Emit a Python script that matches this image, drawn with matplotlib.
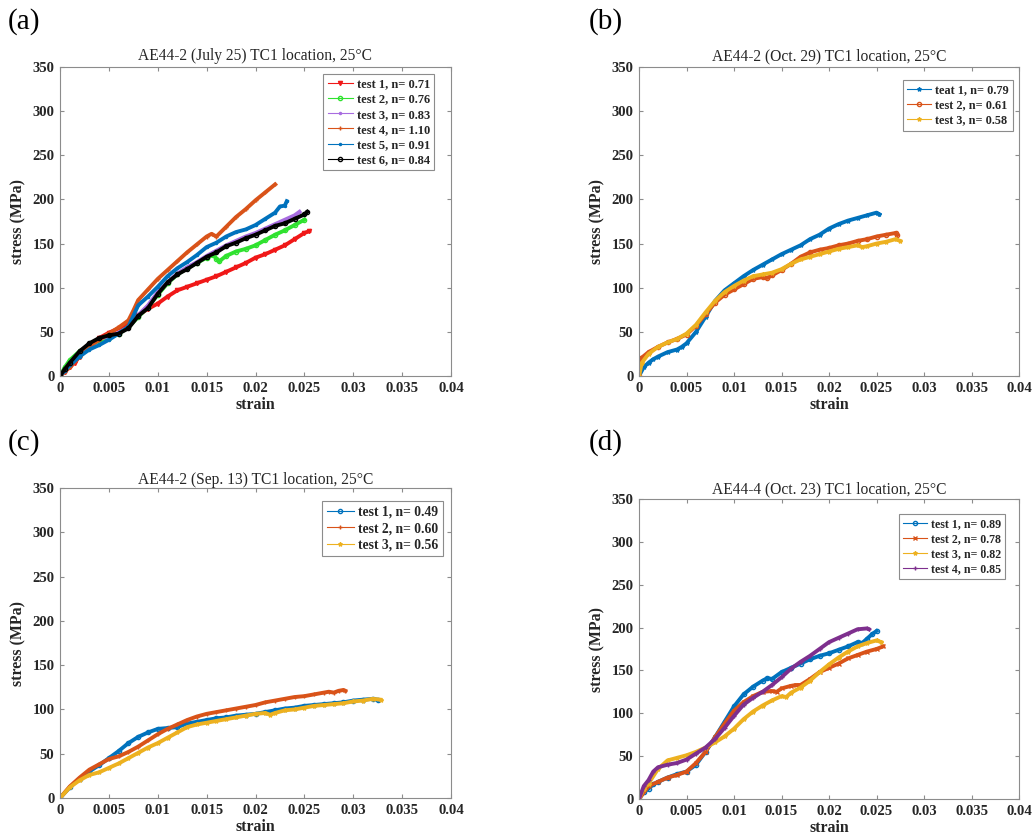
import matplotlib
matplotlib.use("Agg")
import matplotlib.pyplot as plt
from matplotlib.lines import Line2D

plt.rcParams["font.family"] = ["Liberation Serif", "DejaVu Serif"]

# ---------------- panel (a): AE44-2 (July 25) ----------------
a_labels = ["test 1, n= 0.71", "test 2, n= 0.76", "test 3, n= 0.83",
            "test 4, n= 1.10", "test 5, n= 0.91", "test 6, n= 0.84"]
a1_strain = [0, 0.0005, 0.001, 0.0015, 0.002, 0.003, 0.004, 0.005, 0.006, 0.007, 0.008,
             0.009, 0.010, 0.011, 0.012, 0.013, 0.014, 0.015, 0.016, 0.017, 0.018, 0.019,
             0.020, 0.021, 0.022, 0.023, 0.024, 0.025, 0.0255]
a1_stress = [0, 5, 10, 15, 22, 33, 43, 49, 54, 60, 69, 76, 82, 90, 97, 101, 105, 109, 113,
             118, 123, 128, 134, 138, 143, 148, 155, 162, 164]
a2_strain = [0, 0.0005, 0.001, 0.002, 0.003, 0.004, 0.005, 0.006, 0.007, 0.008, 0.009, 0.010,
             0.011, 0.012, 0.013, 0.014, 0.015, 0.0157, 0.0160, 0.0163, 0.017, 0.018, 0.019,
             0.020, 0.021, 0.022, 0.023, 0.024, 0.025]
a2_stress = [0, 10, 18, 28, 35, 40, 43, 48, 55, 67, 78, 92, 105, 115, 122, 128, 134, 137,
             133, 130, 136, 141, 144, 148, 154, 160, 165, 171, 177]
a3_strain = [0, 0.001, 0.002, 0.003, 0.004, 0.005, 0.006, 0.007, 0.008, 0.009, 0.010, 0.011,
             0.012, 0.013, 0.014, 0.015, 0.016, 0.017, 0.018, 0.019, 0.020, 0.021, 0.022,
             0.023, 0.024, 0.0245]
a3_stress = [0, 14, 27, 36, 42, 45, 49, 55, 69, 80, 95, 106, 116, 123, 129, 136, 142, 148,
             153, 158, 162, 167, 172, 177, 182, 186]
a4_strain = [0, 0.0005, 0.001, 0.002, 0.003, 0.004, 0.005, 0.006, 0.007, 0.0075, 0.008,
             0.009, 0.010, 0.011, 0.012, 0.013, 0.014, 0.015, 0.0155, 0.016, 0.017, 0.018,
             0.019, 0.020, 0.021, 0.022]
a4_stress = [0, 5, 10, 22, 33, 41, 48, 55, 63, 74, 86, 98, 110, 120, 130, 140, 149, 158,
             161, 158, 169, 180, 189, 199, 208, 217]
a5_strain = [0, 0.0005, 0.001, 0.002, 0.003, 0.004, 0.005, 0.006, 0.007, 0.008, 0.009,
             0.010, 0.011, 0.012, 0.013, 0.014, 0.015, 0.016, 0.017, 0.018, 0.019, 0.020,
             0.021, 0.022, 0.0225, 0.023, 0.0232]
a5_stress = [0, 6, 12, 22, 30, 35, 41, 48, 56, 80, 90, 101, 113, 122, 129, 137, 146, 151,
             158, 163, 166, 171, 178, 185, 192, 193, 198]
a6_strain = [0, 0.0005, 0.001, 0.002, 0.003, 0.004, 0.005, 0.006, 0.007, 0.008, 0.009,
             0.010, 0.011, 0.012, 0.013, 0.014, 0.015, 0.016, 0.017, 0.018, 0.019, 0.020,
             0.021, 0.022, 0.023, 0.024, 0.025, 0.0253]
a6_stress = [0, 8, 15, 28, 37, 43, 46, 48, 54, 68, 77, 93, 106, 115, 121, 128, 135, 140,
             147, 151, 156, 160, 165, 170, 173, 178, 183, 186]

# ---------------- panel (b): AE44-2 (Oct. 29) ----------------
b_labels = ["teat 1, n= 0.79", "test 2, n= 0.61", "test 3, n= 0.58"]
b1_strain = [0, 0.0005, 0.001, 0.0015, 0.002, 0.003, 0.004, 0.0045, 0.005, 0.006, 0.007,
             0.008, 0.009, 0.010, 0.011, 0.012, 0.013, 0.014, 0.015, 0.016, 0.017, 0.018,
             0.019, 0.020, 0.021, 0.022, 0.023, 0.024, 0.025, 0.0253]
b1_stress = [0, 10, 15, 19, 22, 27, 30, 33, 37, 50, 67, 85, 97, 105, 113, 120, 126, 132,
             138, 143, 148, 155, 160, 167, 172, 176, 179, 182, 185, 183]
b2_strain = [0, 0.0002, 0.001, 0.002, 0.003, 0.004, 0.005, 0.006, 0.007, 0.008, 0.009,
             0.010, 0.011, 0.012, 0.013, 0.0135, 0.014, 0.015, 0.016, 0.017, 0.018, 0.019,
             0.020, 0.021, 0.022, 0.023, 0.024, 0.025, 0.026, 0.027, 0.0272]
b2_stress = [0, 20, 27, 33, 38, 42, 47, 57, 70, 83, 92, 98, 104, 110, 112, 111, 114, 120,
             127, 135, 140, 143, 145, 148, 150, 153, 155, 158, 160, 162, 160]
b3_strain = [0, 0.0003, 0.001, 0.002, 0.003, 0.004, 0.005, 0.006, 0.007, 0.008, 0.009,
             0.010, 0.011, 0.012, 0.013, 0.014, 0.015, 0.016, 0.017, 0.018, 0.019, 0.020,
             0.021, 0.022, 0.023, 0.0235, 0.024, 0.025, 0.026, 0.027, 0.0275]
b3_stress = [0, 15, 25, 33, 38, 42, 48, 58, 72, 85, 95, 102, 108, 113, 115, 117, 121, 127,
             132, 135, 138, 141, 144, 146, 148, 146, 147, 150, 152, 155, 153]

# ---------------- panel (c): AE44-2 (Sep. 13) ----------------
c_labels = ["test 1, n= 0.49", "test 2, n= 0.60", "test 3, n= 0.56"]
c1_strain = [0, 0.001, 0.002, 0.003, 0.004, 0.005, 0.006, 0.007, 0.008, 0.009, 0.010,
             0.011, 0.012, 0.013, 0.014, 0.015, 0.016, 0.017, 0.018, 0.019, 0.020, 0.021,
             0.022, 0.023, 0.024, 0.025, 0.026, 0.027, 0.028, 0.029, 0.030, 0.031, 0.032,
             0.0325]
c1_stress = [0, 12, 22, 30, 37, 45, 53, 62, 69, 74, 78, 79, 80, 84, 86, 88, 90, 91, 93,
             94, 95, 97, 99, 101, 102, 104, 105, 106, 107, 108, 110, 111, 112, 111]
c2_strain = [0, 0.001, 0.002, 0.003, 0.004, 0.005, 0.006, 0.007, 0.008, 0.009, 0.010,
             0.011, 0.012, 0.013, 0.014, 0.015, 0.016, 0.017, 0.018, 0.019, 0.020, 0.021,
             0.022, 0.023, 0.024, 0.025, 0.026, 0.027, 0.0275, 0.028, 0.0285, 0.029, 0.0292]
c2_stress = [0, 13, 23, 32, 38, 44, 47, 52, 58, 65, 72, 78, 83, 88, 92, 95, 97, 99, 101,
             103, 105, 108, 110, 112, 114, 115, 117, 119, 120, 119, 121, 122, 121]
c3_strain = [0, 0.001, 0.002, 0.003, 0.004, 0.005, 0.006, 0.007, 0.008, 0.009, 0.010,
             0.011, 0.012, 0.013, 0.014, 0.015, 0.016, 0.017, 0.018, 0.019, 0.020, 0.021,
             0.0215, 0.022, 0.023, 0.024, 0.025, 0.026, 0.027, 0.028, 0.029, 0.030, 0.031,
             0.032, 0.0328]
c3_stress = [0, 12, 20, 26, 29, 34, 39, 45, 51, 57, 62, 68, 74, 80, 83, 85, 87, 89, 91,
             93, 95, 96, 94, 96, 99, 100, 102, 104, 105, 106, 107, 109, 110, 112, 111]

# ---------------- panel (d): AE44-4 (Oct. 23) ----------------
d_labels = ["test 1, n= 0.89", "test 2, n= 0.78", "test 3, n= 0.82", "test 4, n= 0.85"]
d1_strain = [0, 0.0005, 0.001, 0.0015, 0.002, 0.003, 0.004, 0.005, 0.006, 0.007, 0.008,
             0.009, 0.010, 0.011, 0.012, 0.013, 0.0135, 0.014, 0.015, 0.016, 0.017, 0.018,
             0.019, 0.020, 0.021, 0.022, 0.023, 0.0235, 0.024, 0.0245, 0.025]
d1_stress = [0, 8, 12, 17, 20, 25, 29, 32, 40, 55, 72, 90, 108, 122, 131, 138, 141, 140,
             148, 153, 158, 163, 167, 170, 174, 178, 183, 182, 187, 192, 196]
d2_strain = [0, 0.001, 0.002, 0.003, 0.004, 0.005, 0.006, 0.007, 0.008, 0.009, 0.010,
             0.011, 0.012, 0.013, 0.014, 0.0145, 0.015, 0.016, 0.0165, 0.017, 0.018, 0.019,
             0.020, 0.021, 0.022, 0.023, 0.024, 0.025, 0.0257]
d2_stress = [0, 15, 20, 25, 28, 32, 42, 55, 72, 88, 103, 113, 120, 125, 126, 125, 129, 132,
             133, 133, 140, 148, 153, 158, 164, 168, 172, 175, 178]
d3_strain = [0, 0.0005, 0.001, 0.002, 0.003, 0.004, 0.005, 0.006, 0.007, 0.008, 0.009,
             0.010, 0.011, 0.012, 0.013, 0.014, 0.015, 0.0155, 0.016, 0.017, 0.018, 0.019,
             0.020, 0.021, 0.022, 0.023, 0.024, 0.025, 0.0255]
d3_stress = [0, 12, 18, 35, 45, 48, 51, 55, 60, 66, 73, 82, 93, 102, 109, 115, 120, 119,
             124, 130, 138, 148, 157, 165, 172, 178, 182, 185, 183]
d4_strain = [0, 0.0005, 0.001, 0.0015, 0.002, 0.003, 0.004, 0.005, 0.006, 0.007, 0.008,
             0.009, 0.010, 0.011, 0.012, 0.013, 0.014, 0.015, 0.016, 0.017, 0.018, 0.019,
             0.020, 0.021, 0.022, 0.023, 0.024, 0.0242]
d4_stress = [0, 15, 22, 32, 37, 40, 42, 46, 53, 60, 70, 83, 97, 110, 118, 125, 133, 142,
             152, 160, 167, 175, 183, 188, 193, 198, 199, 198]

# ---------------- styling ----------------
MATLAB = ["#0072BD", "#D95319", "#EDB120", "#7E2F8E"]
panels = [
    dict(tag="(a)", title="AE44-2 (July 25) TC1 location, 25°C",
         rect=[60, 67, 451, 376], tpad=5,
         series=[(a1_strain, a1_stress), (a2_strain, a2_stress), (a3_strain, a3_stress),
                 (a4_strain, a4_stress), (a5_strain, a5_stress), (a6_strain, a6_stress)],
         labels=a_labels,
         colors=["#F01818", "#2FE22F", "#A86CE0", "#D95319", "#0072BD", "#000000"],
         markers=["v", "o", ".", "+", ".", "o"],
         leg=(0.957, 0.977), legfs=9.0),
    dict(tag="(b)", title="AE44-2 (Oct. 29) TC1 location, 25°C",
         rect=[639, 67, 1019, 376], tpad=5,
         series=[(b1_strain, b1_stress), (b2_strain, b2_stress), (b3_strain, b3_stress)],
         labels=b_labels, colors=MATLAB[:3], markers=["*", "o", "*"],
         leg=(0.984, 0.958), legfs=8.8),
    dict(tag="(c)", title="AE44-2 (Sep. 13) TC1 location, 25°C",
         rect=[60, 488, 451, 798], tpad=3,
         series=[(c1_strain, c1_stress), (c2_strain, c2_stress), (c3_strain, c3_stress)],
         labels=c_labels, colors=MATLAB[:3], markers=["o", "+", "*"],
         leg=(0.98, 0.958), legfs=9.8),
    dict(tag="(d)", title="AE44-4 (Oct. 23) TC1 location, 25°C",
         rect=[639, 499, 1019, 799], tpad=4,
         series=[(d1_strain, d1_stress), (d2_strain, d2_stress), (d3_strain, d3_stress),
                 (d4_strain, d4_stress)],
         labels=d_labels, colors=MATLAB, markers=["o", "x", "*", "+"],
         leg=(0.963, 0.95), legfs=8.6),
]
tag_pos = {"(a)": (8, 22), "(b)": (589, 22), "(c)": (8, 443), "(d)": (589, 443)}

W, H = 1034, 838
fig = plt.figure(figsize=(W / 100, H / 100), dpi=100)
fig.patch.set_facecolor("white")

xticks = [0, 0.005, 0.01, 0.015, 0.02, 0.025, 0.03, 0.035, 0.04]
xticklabels = ["0", "0.005", "0.01", "0.015", "0.02", "0.025", "0.03", "0.035", "0.04"]
yticks = [0, 50, 100, 150, 200, 250, 300, 350]
spine_col = "#8C8C8C"
text_col = "#262626"

for p in panels:
    x0, y0, x1, y1 = p["rect"]
    ax = fig.add_axes([x0 / W, 1 - y1 / H, (x1 - x0) / W, (y1 - y0) / H])
    handles = []
    for (sx, sy), col, mk, lab in zip(p["series"], p["colors"], p["markers"], p["labels"]):
        ax.plot(sx, sy, color=col, lw=2.8, marker=mk, ms=3, mfc="none" if mk == "o" else col,
                mec=col, solid_joinstyle="round")
        handles.append(Line2D([], [], color=col, lw=0.8, marker=mk, ms=3,
                              mfc="none" if mk == "o" else col, mec=col, label=lab))
    ax.set_xlim(0, 0.04)
    ax.set_ylim(0, 350)
    ax.set_xticks(xticks)
    ax.set_xticklabels(xticklabels)
    ax.set_yticks(yticks)
    ax.tick_params(direction="in", length=3, width=0.8, color=spine_col,
                   top=True, right=True, labelsize=10.6, labelcolor=text_col, pad=4)
    for lbl in ax.get_xticklabels() + ax.get_yticklabels():
        lbl.set_fontweight("bold")
    for s in ax.spines.values():
        s.set_color(spine_col)
        s.set_linewidth(0.8)
    ax.set_xlabel("strain", fontsize=11.4, fontweight="bold", color=text_col, labelpad=2)
    ax.set_ylabel("stress (MPa)", fontsize=11.4, fontweight="bold", color=text_col, labelpad=4)
    ax.set_title(p["title"], fontsize=11.2, color=text_col, pad=p["tpad"])
    leg = ax.legend(handles=handles, loc="upper right", bbox_to_anchor=p["leg"],
                    borderaxespad=0, fancybox=False, edgecolor=spine_col,
                    prop={"weight": "bold", "size": p["legfs"]}, handlelength=2.0,
                    handletextpad=0.3, labelspacing=0.25, borderpad=0.35, framealpha=1)
    leg.get_frame().set_linewidth(0.8)
    for t in leg.get_texts():
        t.set_color(text_col)
    tx, ty = tag_pos[p["tag"]]
    fig.text(tx / W, 1 - ty / H, p["tag"], fontsize=21, va="center", ha="left", color="black")

fig.savefig("out.png", dpi=100, facecolor="white")
